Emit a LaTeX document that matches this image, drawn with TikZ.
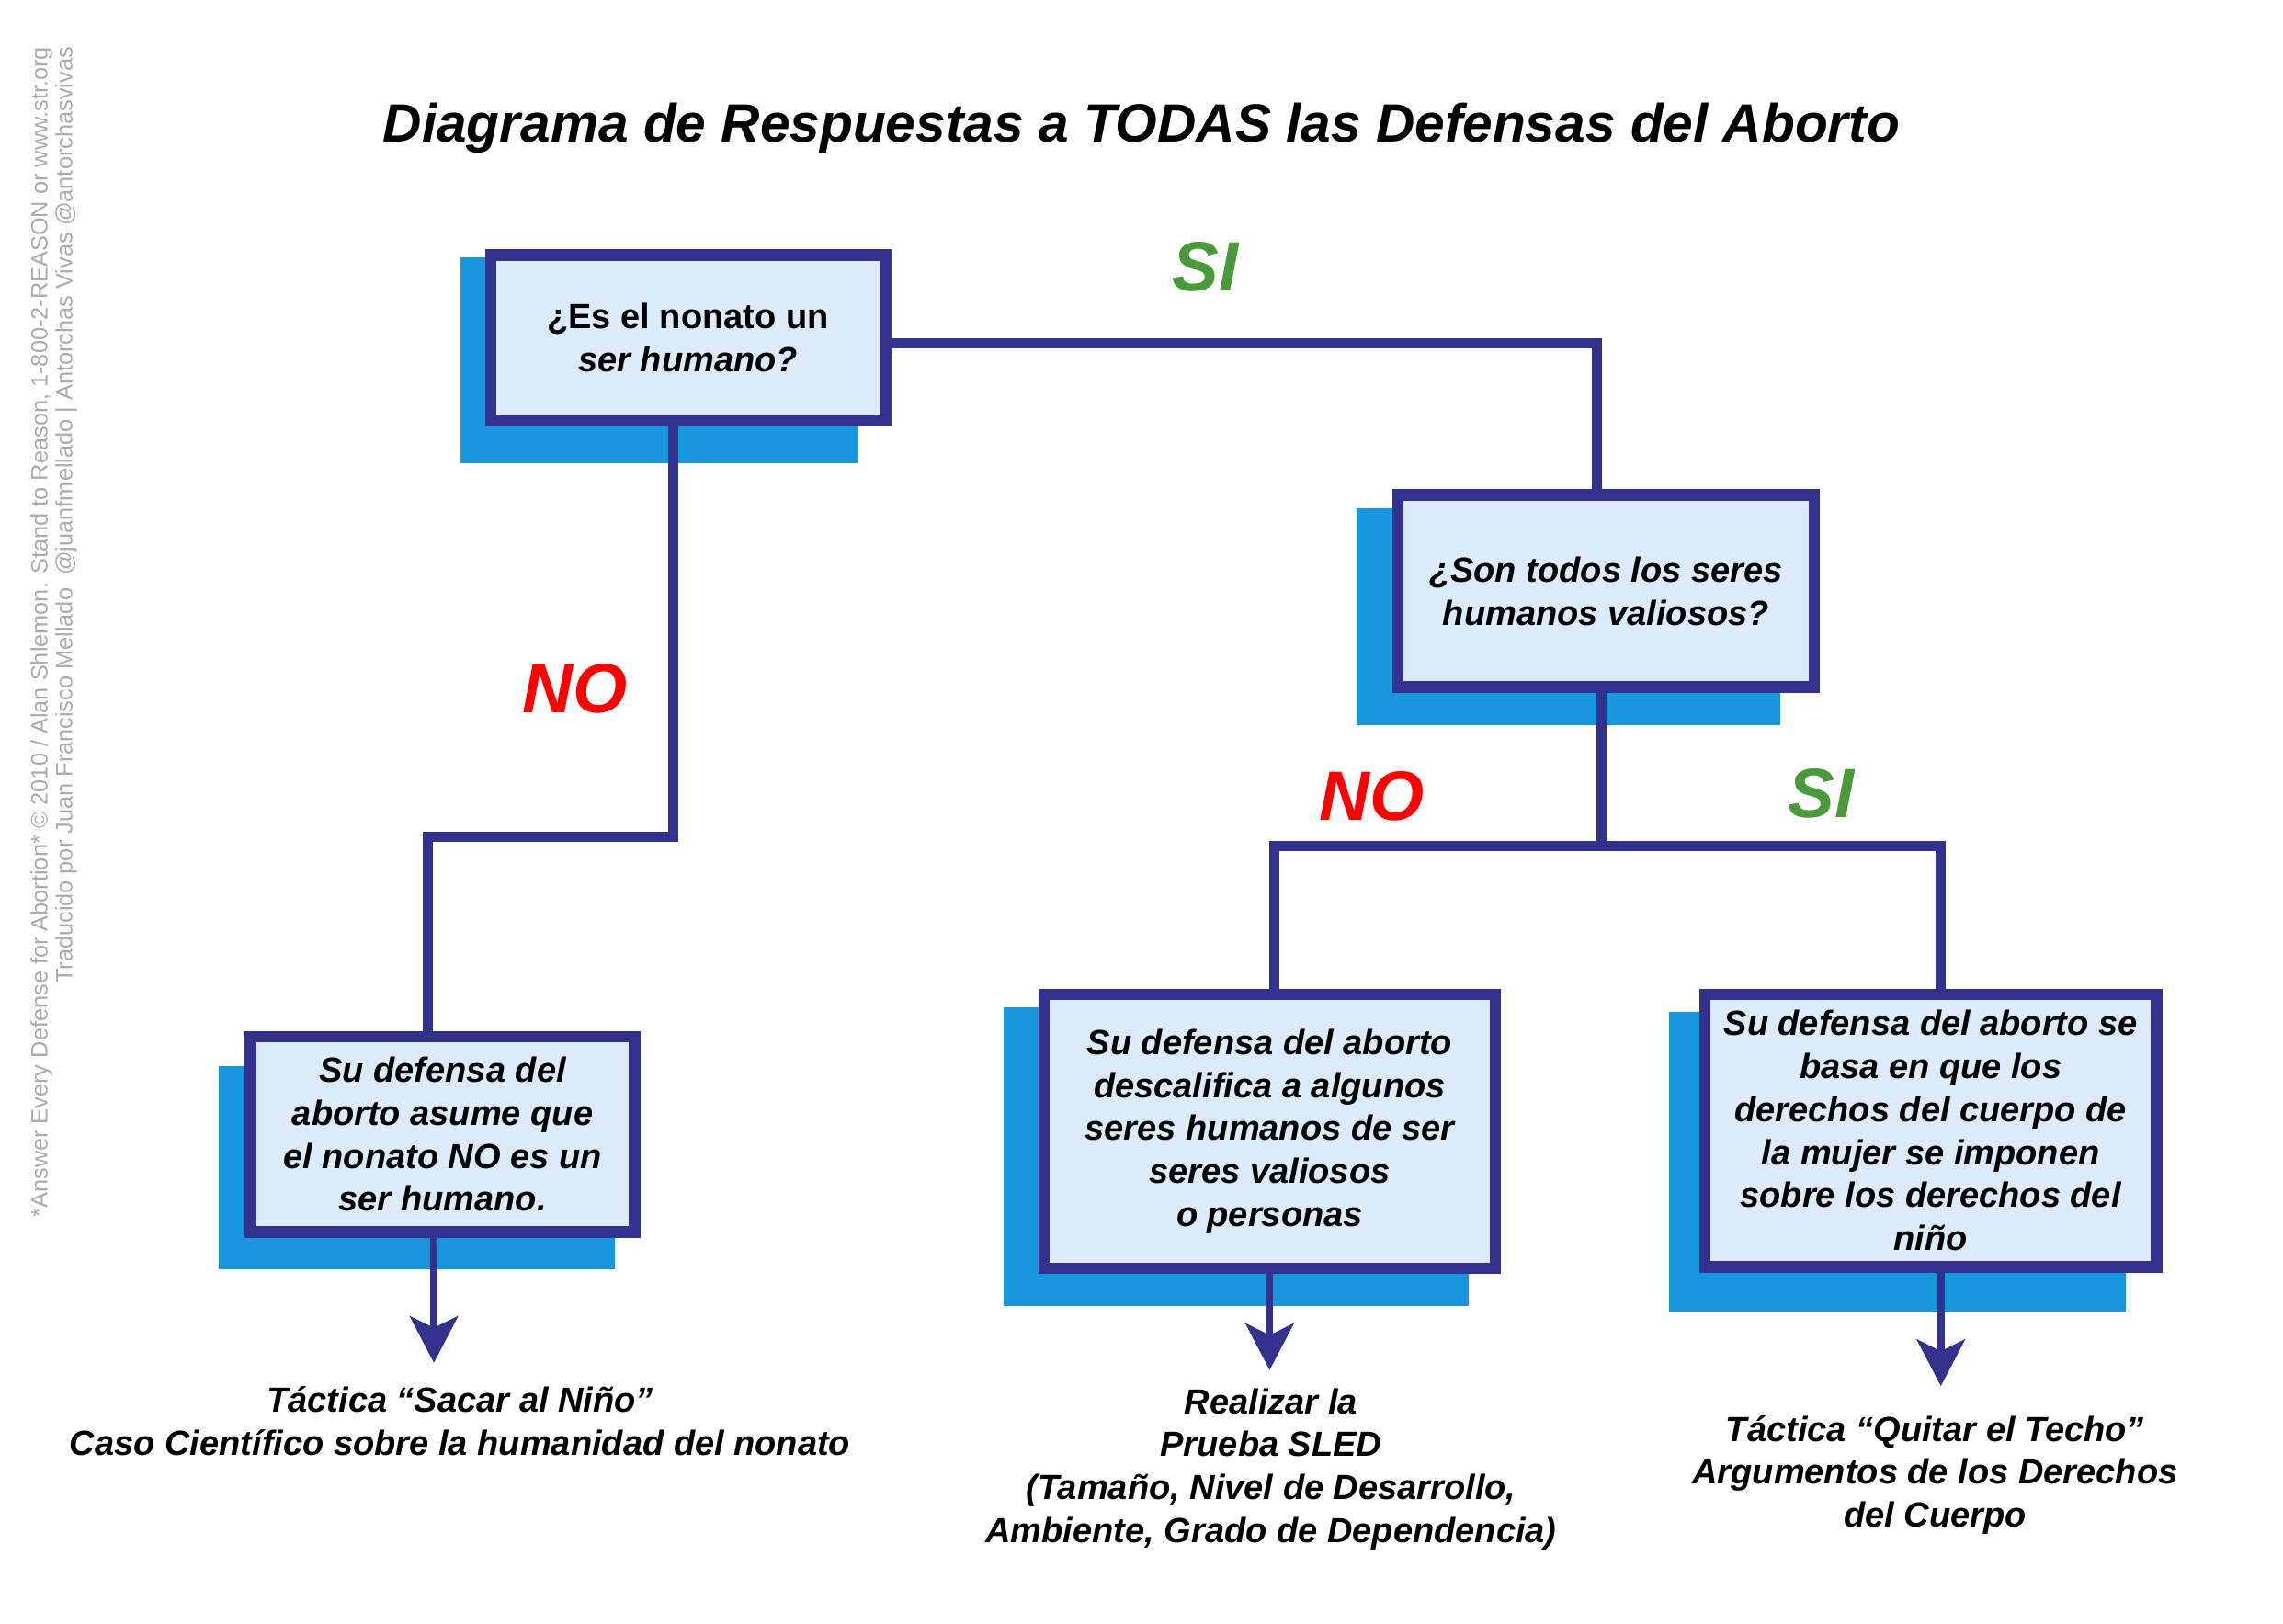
\documentclass[tikz,border=0pt]{standalone}
\usepackage{fontspec}
\setmainfont{Liberation Sans}
\usetikzlibrary{arrows.meta}
\definecolor{navy}{HTML}{32318C}
\definecolor{shadowblue}{HTML}{1897DF}
\definecolor{boxfill}{HTML}{DCEBFA}
\definecolor{sigreen}{HTML}{4A9A3B}
\definecolor{gristext}{HTML}{ABABAB}
\begin{document}
\begin{tikzpicture}[x=1pt,y=-1pt,
  qbox/.style={draw=navy, fill=boxfill, line width=8pt, align=center, inner sep=0pt,
    font=\fontsize{24}{29.5}\selectfont\bfseries\itshape},
  shadowrect/.style={fill=shadowblue},
  conn/.style={draw=navy, line width=7pt},
  arr/.style={draw=navy, line width=5pt, -{Stealth[length=32pt,width=33pt,inset=8pt]}},
  lbl/.style={font=\fontsize{48}{48}\selectfont\bfseries\itshape},
  outtxt/.style={align=center, inner sep=0pt, font=\fontsize{24}{29.5}\selectfont\bfseries\itshape},
  sidetxt/.style={rotate=90, text=gristext, inner sep=0pt, font=\fontsize{16}{18}\selectfont}
]
\fill[white] (0,0) rectangle (1568,1115);
\useasboundingbox (0,0) rectangle (1568,1115);

% title and side credits
\node[font=\fontsize{37}{44}\selectfont\bfseries\itshape] (title) at (784,88) {Diagrama de Respuestas a TODAS las Defensas del Aborto};
\node[sidetxt, anchor=mid east] (s1) at (30,32) {*Answer Every Defense for Abortion* © 2010 / Alan Shlemon. Stand to Reason, 1-800-2-REASON or www.str.org};
\node[sidetxt, anchor=mid east] (s2) at (47,32) {Traducido por Juan Francisco Mellado\ \ @juanfmellado | Antorchas Vivas @antorchasvivas};

% shadows
\path[shadowrect] (316,177) rectangle (589,318);
\path[shadowrect] (932,349) rectangle (1223,498);
\path[shadowrect] (150,732) rectangle (422,872);
\path[shadowrect] (689,692) rectangle (1009,897);
\path[shadowrect] (1146,695) rectangle (1460,901);

% boxes
\node[qbox, minimum width=271pt, minimum height=114pt] (b1) at (472.5,232) {{\upshape ¿Es el nonato un}\\ser humano?};
\node[qbox, minimum width=286pt, minimum height=132pt] (b2) at (1103,406) {¿Son todos los seres\\humanos valiosos?};
\node[qbox, minimum width=264pt, minimum height=134pt] (b4) at (304,779) {Su defensa del\\aborto asume que\\el nonato NO es un\\ser humano.};
\node[qbox, minimum width=310pt, minimum height=188pt] (b5) at (872,777) {Su defensa del aborto\\descalifica a algunos\\seres humanos de ser\\seres valiosos\\o personas};
\node[qbox, minimum width=310pt, minimum height=187pt] (b6) at (1326,776.5) {Su defensa del aborto se\\basa en que los\\derechos del cuerpo de\\la mujer se imponen\\sobre los derechos del\\niño};

% connectors
\coordinate (j1) at (378,575);
\coordinate (j2) at (1100,581);
\draw[conn] ([yshift=-4pt]b1.east) -| ([xshift=-6pt]b2.north);
\draw[conn] ([xshift=-10pt]b1.south) |- (j1) -| ([xshift=-10pt]b4.north);
\draw[conn] ([xshift=-3pt]b2.south) -- (j2);
\draw[conn] (j2) -| ([xshift=3pt]b5.north);
\draw[conn] (j2) -| ([xshift=7pt]b6.north);

% arrows
\coordinate (t4) at (298,936);
\coordinate (t5) at (872,941);
\coordinate (t6) at (1333,952);
\draw[arr] ([xshift=-6pt]b4.south) -- (t4);
\draw[arr] (b5.south) -- (t5);
\draw[arr] ([xshift=7pt]b6.south) -- (t6);

% labels
\node[lbl, text=sigreen] (si1) at (828,183) {SI};
\node[lbl, text=red] (no1) at (395,473) {NO};
\node[lbl, text=red] (no2) at (942,547) {NO};
\node[lbl, text=sigreen] (si2) at (1251,545) {SI};

% outcomes
\node[outtxt] (o4) at (316,976) {Táctica “Sacar al Niño”\\Caso Científico sobre la humanidad del nonato};
\node[outtxt] (o5) at (873,1009) {Realizar la\\Prueba SLED\\(Tamaño, Nivel de Desarrollo,\\Ambiente, Grado de Dependencia)};
\node[outtxt] (o6) at (1329,1013) {Táctica “Quitar el Techo”\\Argumentos de los Derechos\\del Cuerpo};
\end{tikzpicture}
\end{document}
